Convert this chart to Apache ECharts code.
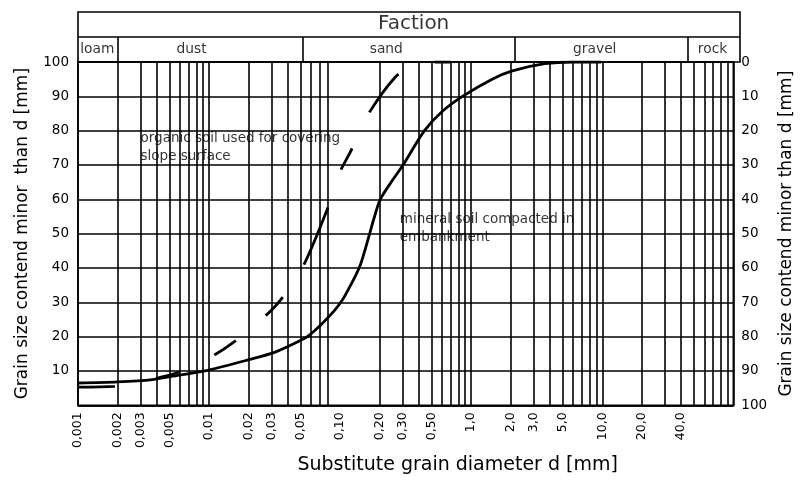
<!DOCTYPE html>
<html><head><meta charset="utf-8">
<script src="https://cdn.jsdelivr.net/npm/echarts@6/dist/echarts.min.js"></script>
<style>html,body{margin:0;padding:0;background:#fff}#c{width:803px;height:480px}</style>
</head><body><div id="c"></div>
<script>
// ---- data ----
const gridValues = [0.002,0.003,0.004,0.005,0.006,0.007,0.008,0.009,0.01,
  0.02,0.03,0.04,0.05,0.06,0.07,0.08,
  0.2,0.3,0.4,0.5,0.6,0.7,0.8,0.9,1,
  2,3,4,5,6,7,8,9,10,
  20,30,40,50,60,70,80,90];
const tickValues = [0.001,0.002,0.003,0.005,0.01,0.02,0.03,0.05,0.1,0.2,0.3,0.5,1,2,3,5,10,20,40];
const tickLabels = ['0,001','0,002','0,003','0,005','0,01','0,02','0,03','0,05','0,10','0,20','0,30','0,50','1,0','2,0','3,0','5,0','10,0','20,0','40,0'];
const fractionNames = ['loam','dust','sand','gravel','rock'];
const fractionBounds = [0.001,0.002,0.05,2,40,100];
const fractionLabelAt = [0.0014,0.0072,0.213,8.0,62];
const headerTitle = 'Faction';
const headerTitleAt = 0.343;
const mineralSoil = [[0.001,6.5],[0.002,6.8],[0.0037,7.5],[0.0059,8.8],[0.0093,10],[0.0206,13.4],[0.0318,15.5],[0.0509,19.1],[0.058,20.4],[0.0708,23.3],[0.09,27.5],[0.1033,30.5],[0.1195,34.8],[0.132,38],[0.143,41],[0.1555,45.5],[0.168,50],[0.183,55],[0.2025,60],[0.245,65],[0.302,70],[0.44,80],[0.6,85.6],[0.858,90],[1.445,95],[2.06,97.4],[3.65,99.5],[6.0,100],[9.8,100]];
const organicSoil = [[0.001,5.3],[0.0019,5.5],[0.003,6.7],[0.0039,7.8],[0.0059,9.7],[0.0108,14.5],[0.0157,18.6],[0.0265,25.8],[0.0358,31.1],[0.052,40.4],[0.079,56.7],[0.099,67.7],[0.12,73.9],[0.161,84.3],[0.262,95.5],[0.36,99],[0.48,100],[0.70,100]];
const notes = [
  {text:'organic soil used for covering\nslope surface', at:[0.003,80.5]},
  {text:'mineral soil compacted in\nembankment', at:[0.285,56.9]}
];
const yTitle = 'Grain size contend minor  than d [mm]';
const yTitleRight = 'Grain size contend minor than d [mm]';
const xTitle = 'Substitute grain diameter d [mm]';

// ---- chart ----
const FONT = 'DejaVu Sans';
const ln = {color:'#000', width:1.6};
function labelFor(v){
  let best=0, bd=Infinity;
  tickValues.forEach((t,i)=>{const d=Math.abs(Math.log10(t)-Math.log10(v)); if(d<bd){bd=d;best=i;}});
  return tickLabels[best];
}
const chart = echarts.init(document.getElementById('c'), null, {renderer:'canvas'});
const headerData = fractionNames.map((n,i)=>({value:[fractionLabelAt[i],0.5], name:n}));
headerData.push({value:[headerTitleAt,1.52], name:headerTitle, label:{fontSize:20}});
const bounds = fractionBounds.slice(1,-1).map(b=>[{coord:[b,0]},{coord:[b,1]}]);
bounds.push([{coord:[fractionBounds[0],1]},{coord:[fractionBounds[fractionBounds.length-1],1]}]);

chart.setOption({
  animation:false,
  backgroundColor:'#fff',
  textStyle:{fontFamily:FONT},
  grid:[
    {left:78,right:63,top:62,bottom:69,show:true,borderColor:'#000',borderWidth:1.6},
    {left:78,right:63,top:12,height:50,show:true,borderColor:'#000',borderWidth:1.6}
  ],
  xAxis:[
    {type:'log',logBase:10,min:0.001,max:100,gridIndex:0,
      axisLine:{show:true,lineStyle:ln},
      axisTick:{show:false,customValues:gridValues},
      splitLine:{show:true,lineStyle:ln},
      axisLabel:{customValues:tickValues,rotate:90,margin:7,fontSize:12.5,color:'#000',fontFamily:FONT,formatter:v=>labelFor(v)},
      name:xTitle,nameLocation:'middle',nameGap:47,
      nameTextStyle:{fontSize:19,color:'#000',fontFamily:FONT,padding:[0,0,0,104]}
    },
    {type:'log',logBase:10,min:0.001,max:100,gridIndex:1,show:false}
  ],
  yAxis:[
    {type:'value',min:0,max:100,interval:10,gridIndex:0,position:'left',
      axisLine:{show:true,lineStyle:ln},axisTick:{show:false},
      splitLine:{show:true,lineStyle:ln},
      axisLabel:{showMinLabel:false,margin:9,fontSize:13.5,color:'#000',fontFamily:FONT},
      name:yTitle,nameLocation:'middle',nameGap:47,
      nameTextStyle:{fontSize:17,color:'#000',fontFamily:FONT}
    },
    {type:'value',min:0,max:100,interval:10,gridIndex:0,position:'right',inverse:true,
      axisLine:{show:true,lineStyle:ln},axisTick:{show:false},splitLine:{show:false},
      axisLabel:{margin:8,fontSize:13.5,color:'#000',fontFamily:FONT},
      name:yTitleRight,nameLocation:'middle',nameGap:44,nameRotate:90,
      nameTextStyle:{fontSize:17,color:'#000',fontFamily:FONT}
    },
    {type:'value',min:0,max:2,gridIndex:1,show:false}
  ],
  series:[
    {name:'mineral soil',type:'line',xAxisIndex:0,yAxisIndex:0,data:mineralSoil,smooth:0.3,symbol:'none',
      lineStyle:{color:'#000',width:2.8},z:5,silent:true},
    {name:'organic soil',type:'line',xAxisIndex:0,yAxisIndex:0,data:organicSoil,smooth:0.3,symbol:'none',
      lineStyle:{color:'#000',width:2.8,type:[37,42,24,39,26,39,25,39,62,40,24,40,48,39,22,400]},z:5,silent:true},
    {name:'header',type:'scatter',xAxisIndex:1,yAxisIndex:2,data:headerData,symbolSize:0,silent:true,
      label:{show:true,position:'inside',formatter:'{b}',color:'#000',fontSize:13.8,fontFamily:FONT},
      markLine:{silent:true,symbol:['none','none'],label:{show:false},lineStyle:{color:'#000',width:1.6,type:'solid'},data:bounds}
    },
    {name:'notes',type:'scatter',xAxisIndex:0,yAxisIndex:0,symbolSize:0,silent:true,z:6,
      data:notes.map(n=>({value:n.at,name:n.text})),
      label:{show:true,position:[0,0],align:'left',verticalAlign:'top',formatter:'{b}',color:'#000',fontSize:13.5,lineHeight:18.5,fontFamily:FONT}
    }
  ]
});
</script></body></html>
